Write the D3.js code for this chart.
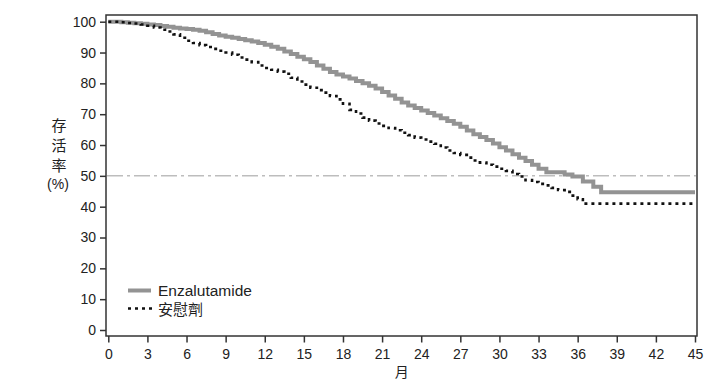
<!DOCTYPE html>
<html>
<head>
<meta charset="utf-8">
<script src="https://cdn.jsdelivr.net/npm/d3@7"></script>
<style>
body { margin: 0; background: #fff; }
text { font-family: "Liberation Sans", Arial, sans-serif; fill: #222; }
.cjk { font-family: "Noto Sans CJK TC", "Noto Sans CJK SC", sans-serif; }
</style>
</head>
<body>
<div id="chart"></div>
<script>
var svgWidth = 704;
var svgHeight = 383;

var seriesNames = ["Enzalutamide", "安慰劑"];

var enzaMonths = [0,0.5,1,1.5,2,2.5,3,3.5,4,4.5,5,5.5,6,6.5,7,7.5,8,8.5,9,9.5,10,10.5,11,11.5,12,12.5,13,13.5,14,14.5,15,15.5,16,16.5,17,17.5,18,18.5,19,19.5,20,20.5,21,21.5,22,22.5,23,23.5,24,24.5,25,25.5,26,26.5,27,27.5,28,28.5,29,29.5,30,30.5,31,31.5,32,32.5,33,33.6,35,35.6,36.4,37.2,37.8,45];
var enzaSurv = [100,100,99.8,99.7,99.5,99.3,99.1,98.9,98.6,98.4,98.0,97.8,97.6,97.4,97.1,96.6,96.0,95.5,95.1,94.8,94.4,94.0,93.6,93.1,92.5,91.9,91.2,90.3,89.5,88.6,87.8,86.9,85.8,84.7,83.7,82.9,82.2,81.6,80.8,80.0,79.2,78.3,77.2,76.1,75.0,73.8,72.8,72.0,71.2,70.4,69.6,68.7,67.8,66.9,65.9,64.7,63.5,62.6,61.6,60.5,59.3,58.2,57.0,55.9,54.8,53.6,52.3,51.2,50.4,49.8,48.2,46.5,44.7,44.7];

var placeboMonths = [0,0.5,1,1.5,2,2.5,3,3.5,4,4.5,5,5.5,6,6.5,7,7.5,8,8.5,9,9.5,10,10.5,11,11.5,12,12.5,13,13.5,14,14.5,15,15.5,16,16.5,17,17.5,18,18.5,19,19.5,20,20.5,21,21.5,22,22.5,23,23.5,24,24.5,25,25.5,26,26.5,27,27.5,28,28.5,29,29.5,30,30.5,31,31.5,32,32.5,33,33.5,34,34.5,35,35.5,36,36.4,45];
var placeboSurv = [100,100,99.8,99.6,99.4,99.1,98.7,98.1,97.4,96.8,95.9,94.8,93.8,93.1,92.4,91.8,91.2,90.6,90.0,89.3,88.4,87.7,86.9,85.8,85.0,84.4,83.8,83.1,81.8,80.6,79.6,78.6,77.8,77.0,75.9,74.8,73.4,71.4,70.2,68.9,67.9,67.0,66.2,65.5,64.8,64.0,63.2,62.4,61.8,61.1,60.4,59.2,58.2,57.4,56.8,55.9,55.0,54.3,53.6,53.0,52.3,51.6,50.6,49.8,48.6,48.0,47.4,46.9,46.1,45.4,44.8,43.6,42.4,41.0,41.0];

var xTicks = [0,3,6,9,12,15,18,21,24,27,30,33,36,39,42,45];
var yTicks = [0,10,20,30,40,50,60,70,80,90,100];
var refLine = 50;

var svg = d3.select("#chart").append("svg").attr("width", svgWidth).attr("height", svgHeight);

var x = d3.scaleLinear().domain([0, 45]).range([108.3, 695]);
var y = d3.scaleLinear().domain([0, 100]).range([330, 21.7]);

// frame
svg.append("rect").attr("x", 106).attr("y", 15).attr("width", 591).attr("height", 321)
	.attr("fill", "none").attr("stroke", "#333").attr("stroke-width", 1.5);

var leftAxis = d3.axisLeft(y).tickValues(yTicks).tickSize(6).tickPadding(4);
var gy = svg.append("g").attr("transform", "translate(106,0)").call(leftAxis);
gy.select(".domain").remove();
gy.selectAll(".tick line").attr("stroke", "#333").attr("stroke-width", 1.5);
gy.selectAll(".tick text").style("font-size", "14px").attr("fill", "#222");

var bottomAxis = d3.axisBottom(x).tickValues(xTicks).tickSize(6.5).tickPadding(7);
var gx = svg.append("g").attr("transform", "translate(0,336)").call(bottomAxis);
gx.select(".domain").remove();
gx.selectAll(".tick line").attr("stroke", "#333").attr("stroke-width", 1.5);
gx.selectAll(".tick text").style("font-size", "14px").attr("fill", "#222");

// 50% reference
svg.append("line").attr("x1", 107).attr("x2", 696).attr("y1", y(refLine)).attr("y2", y(refLine))
	.attr("stroke", "#bdbdbd").attr("stroke-width", 1.5).attr("stroke-dasharray", "16,4,3,4");

var line = d3.line().curve(d3.curveStepAfter).x(d => x(d[0])).y(d => y(d[1]));

var placeboData = d3.zip(placeboMonths, placeboSurv);
var enzaData = d3.zip(enzaMonths, enzaSurv);

svg.append("path").datum(enzaData).attr("d", line).attr("fill", "none")
	.attr("stroke", "#939393").attr("stroke-width", 4);

svg.append("path").datum(placeboData).attr("d", line).attr("fill", "none")
	.attr("stroke", "#111").attr("stroke-width", 2.6).attr("stroke-dasharray", "3,4");

// axis titles
var yTitle = ["存", "活", "率"];
svg.selectAll(".ytitle").data(yTitle).enter().append("text").attr("class", "cjk")
	.attr("x", 59).attr("y", (d, i) => 131 + i * 20).attr("text-anchor", "middle")
	.style("font-size", "15px").text(d => d);
svg.append("text").attr("x", 58).attr("y", 189).attr("text-anchor", "middle")
	.style("font-size", "14px").text("(%)");

svg.append("text").attr("class", "cjk").attr("x", x(22.5)).attr("y", 377).attr("text-anchor", "middle")
	.style("font-size", "14px").text("月");

// legend
svg.append("line").attr("x1", 128).attr("x2", 151).attr("y1", 290.5).attr("y2", 290.5)
	.attr("stroke", "#939393").attr("stroke-width", 4);
svg.append("line").attr("x1", 128).attr("x2", 153).attr("y1", 308.5).attr("y2", 308.5)
	.attr("stroke", "#111").attr("stroke-width", 2.6).attr("stroke-dasharray", "3,4");
svg.append("text").attr("x", 158).attr("y", 296).style("font-size", "15.5px").text(seriesNames[0]);
svg.append("text").attr("class", "cjk").attr("x", 158).attr("y", 315).style("font-size", "15px").text(seriesNames[1]);
</script>
</body>
</html>
